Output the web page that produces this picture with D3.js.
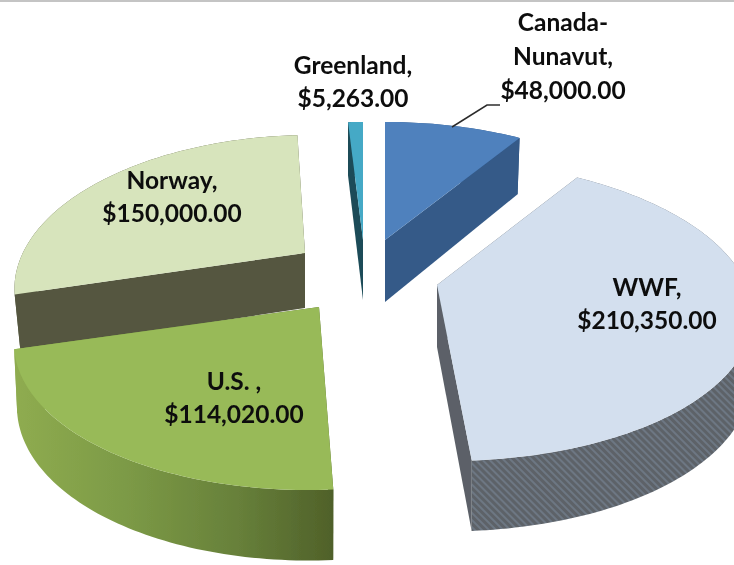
<!DOCTYPE html>
<html><head><meta charset="utf-8">
<script src="https://cdn.jsdelivr.net/npm/d3@7/dist/d3.min.js"></script>
<style>html,body{margin:0;padding:0;background:#fff;overflow:hidden}svg{display:block}</style>
</head><body><svg id="c" width="734" height="565"></svg>
<script>
const categories = ["Canada-Nunavut","WWF","U.S. ","Norway","Greenland"];
const values = [48000,210350,114020,150000,5263];
const topColors = ["#4f81bd","#d3dfee","#98ba58","#d7e4bc","#45a9c6"];
const wallColors = ["#345a88","url(#hatch)","url(#usWall)","#54573f","#1d4c58"];
const cutColors = ["#345a88","#5b6168","url(#usWall)","#54573f","#1d4c58"];
const apexX = [385,437,319,305,363];
const apexY = [240,285,307,253,240];
const depths = [62,62,62,55,60];
const stretchX = [1.015,1.075,1.03,0.98,1];
const shearX = [0,0.06,-0.055,-0.06,0];
const perspective = [0.208,0.17,0.208,0.208,0.208];
const heightK = [142.6,146,145,142.6,142.6];
const lowerShrink = [0.985,0.995,0.99,0.98,1];
const labelX = [563,647,234,172,353];
const labelY = [22,287,381,180,65];
const drawOrder = [3,4,0,1,2];

const W=734,H=565;
const svg=d3.select("#c");
const defs=svg.append("defs");
const blur=defs.append("filter").attr("id","soft").attr("x","-5%").attr("y","-5%").attr("width","110%").attr("height","110%");
blur.append("feGaussianBlur").attr("stdDeviation",0.55);
const txtBlur=defs.append("filter").attr("id","softText");
txtBlur.append("feGaussianBlur").attr("stdDeviation",0.35);
const hatch=defs.append("pattern").attr("id","hatch").attr("patternUnits","userSpaceOnUse")
 .attr("width",5).attr("height",5).attr("patternTransform","rotate(-45)");
hatch.append("rect").attr("width",5).attr("height",5).attr("fill","#5d6268");
hatch.append("rect").attr("width",2).attr("height",5).attr("fill","#6d7783");
const g=defs.append("linearGradient").attr("id","usWall").attr("gradientUnits","userSpaceOnUse")
 .attr("x1",14).attr("x2",335).attr("y1",0).attr("y2",0);
[[0,"#8fac50"],[0.35,"#7c9a46"],[0.7,"#67803a"],[1,"#4f6029"]].forEach(s=>g.append("stop").attr("offset",s[0]).attr("stop-color",s[1]));

svg.append("rect").attr("width",W).attr("height",2).attr("fill","#c4c4c4");
const root=svg.append("g").attr("filter","url(#soft)");

const arcs=d3.pie().sort(null).value(d=>d)(values);
const R=288,DEPTHK=0.12;
const scaleX=d3.scaleLinear().domain([-1,1]).range([-R,R]);
function project(i,theta,r,lower){
  const X=r*Math.sin(theta),Y=-r*Math.cos(theta),D=1-perspective[i]*Y;
  const scaleY=d3.scaleLinear().domain([-1,1]).range([-heightK[i],heightK[i]]);
  let y=scaleY(Y)/D;
  let x=scaleX(X)/D*stretchX[i]+shearX[i]*y;
  if(lower){x*=lowerShrink[i];y+=depths[i]/(1-DEPTHK*Y);}
  return [apexX[i]+x,apexY[i]+y];
}
const line=d3.line();
function sweep(a,b){const n=Math.max(2,Math.ceil((b-a)/0.02));return d3.range(n+1).map(k=>a+(b-a)*k/n);}

drawOrder.forEach(i=>{
  const a=arcs[i],t=sweep(a.startAngle,a.endAngle);
  const top=t.map(v=>project(i,v,1,false));
  const bot=t.map(v=>project(i,v,1,true));
  const s=root.append("g");
  s.append("path").attr("d",line(top.concat(bot.slice().reverse()))+"Z").attr("fill",wallColors[i]);
  [a.startAngle,a.endAngle].forEach(v=>{
    const q=[project(i,v,0,false),project(i,v,1,false),project(i,v,1,true),project(i,v,0,true)];
    s.append("path").attr("d",line(q)+"Z").attr("fill",cutColors[i]);
  });
  s.append("path").attr("d",line([project(i,0,0,false)].concat(top))+"Z").attr("fill",topColors[i]);
});

root.append("path").attr("d",line([[452,127],[487,105],[500,105]])).attr("fill","none").attr("stroke","#2b2b2b").attr("stroke-width",1.5);

const fmt=d3.format("$,.2f");
const labels=svg.append("g").attr("font-family","Lato, 'Noto Sans', sans-serif").attr("font-weight",700).attr("font-size",24.5).attr("fill","#0c0c0c").attr("text-anchor","middle").attr("filter","url(#softText)");
categories.forEach((c,i)=>{
  const parts=c.includes("-")?[c.split("-")[0]+"-",c.split("-")[1]+",",fmt(values[i])]:[c+",",fmt(values[i])];
  const gap=i===0?34:33.5;
  parts.forEach((p,k)=>labels.append("text").attr("x",labelX[i]).attr("y",labelY[i]+k*gap).attr("dy","0.35em").text(p));
});
</script></body></html>
